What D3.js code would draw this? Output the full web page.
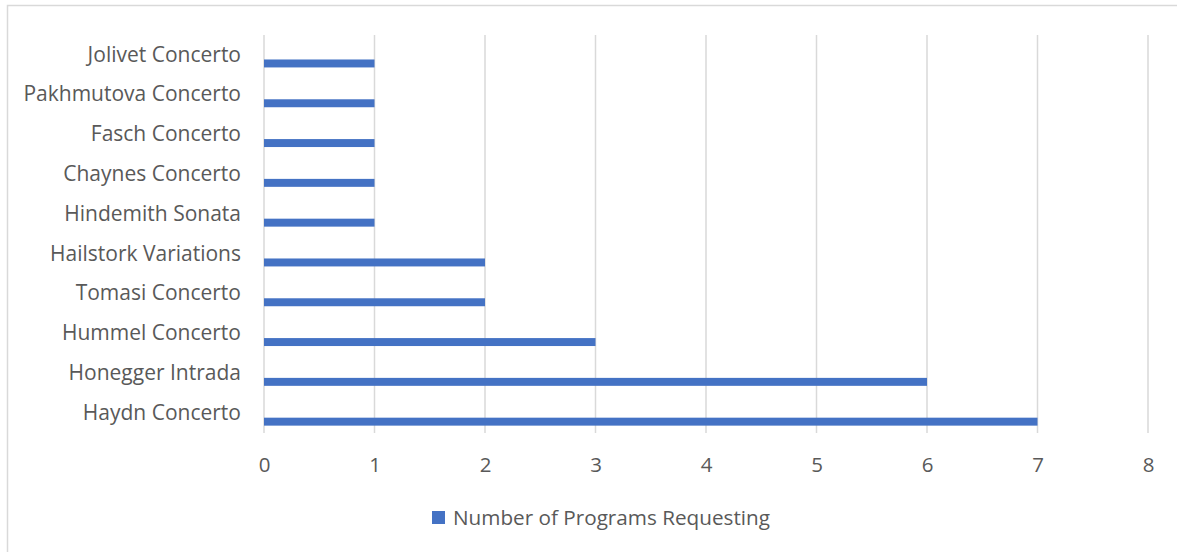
<!DOCTYPE html>
<html>
<head>
<meta charset="utf-8">
<script src="https://cdn.jsdelivr.net/npm/d3@7"></script>
<style>
  body { margin: 0; background: #fff; }
  svg { display: block; }
</style>
</head>
<body>
<div class="chart"></div>
<script>
const categories = ['Haydn Concerto', 'Honegger Intrada', 'Hummel Concerto', 'Tomasi Concerto', 'Hailstork Variations',
  'Hindemith Sonata', 'Chaynes Concerto', 'Fasch Concerto', 'Pakhmutova Concerto', 'Jolivet Concerto']
const values = [7, 6, 3, 2, 2, 1, 1, 1, 1, 1]
const xTicks = [0, 1, 2, 3, 4, 5, 6, 7, 8]
const seriesName = 'Number of Programs Requesting'

const W = 1177
const H = 552
const BAR = '#4472c4'
const GRID = '#d9d9d9'
const TEXT = '#595959'
const FONT = "'Open Sans', 'Noto Sans', sans-serif"
const FONT_SIZE = 20.5

const margin = {top: 35, right: 29, bottom: 119, left: 264}
const width = W - margin.left - margin.right
const height = H - margin.top - margin.bottom

const data = categories.map((c, i) => ({name: c, value: values[i]}))

const svg = d3.select('.chart').append('svg')
  .attr('width', W)
  .attr('height', H)
  .attr('font-family', FONT)

// chart frame
svg.append('rect')
  .attr('x', 7.5).attr('y', 5.5)
  .attr('width', W + 20).attr('height', H + 20)
  .attr('fill', '#fff')
  .attr('stroke', GRID)
  .attr('stroke-width', 1.5)

const g = svg.append('g').attr('transform', `translate(${margin.left},${margin.top})`)

const x = d3.scaleLinear().domain([0, 8]).range([0, width])
const y = d3.scaleBand().domain(categories).range([height, 0])

// gridlines
g.append('g').attr('class', 'grid')
  .selectAll('line').data(xTicks).join('line')
  .attr('x1', d => x(d)).attr('x2', d => x(d))
  .attr('y1', 0).attr('y2', height)
  .attr('stroke', GRID)
  .attr('stroke-width', 1.5)

// bars (sit in lower part of each band)
g.append('g').attr('class', 'bars')
  .selectAll('rect').data(data).join('rect')
  .attr('x', x(0))
  .attr('y', d => y(d.name) + y.bandwidth() * 0.615)
  .attr('width', d => x(d.value) - x(0))
  .attr('height', y.bandwidth() * 0.2)
  .attr('fill', BAR)

// x axis labels
const axisX = d3.axisBottom(x).tickValues(xTicks).tickSize(0).tickPadding(24)
const gx = g.append('g').attr('transform', `translate(0,${height})`).call(axisX)
  .attr('font-family', FONT).attr('font-size', FONT_SIZE)
gx.select('.domain').remove()
gx.selectAll('text').attr('fill', TEXT)

// y axis labels
const axisY = d3.axisLeft(y).tickSize(0).tickPadding(23)
const gy = g.append('g').call(axisY)
  .attr('font-family', FONT).attr('font-size', 21)
gy.select('.domain').remove()
gy.selectAll('text').attr('fill', TEXT)

// legend
const legend = svg.append('g').attr('transform', 'translate(432,511)')
legend.append('rect')
  .attr('width', 13).attr('height', 13)
  .attr('fill', BAR)
legend.append('text')
  .attr('x', 21).attr('y', 14)
  .attr('font-size', 20.7)
  .attr('fill', TEXT)
  .text(seriesName)
</script>
</body>
</html>
